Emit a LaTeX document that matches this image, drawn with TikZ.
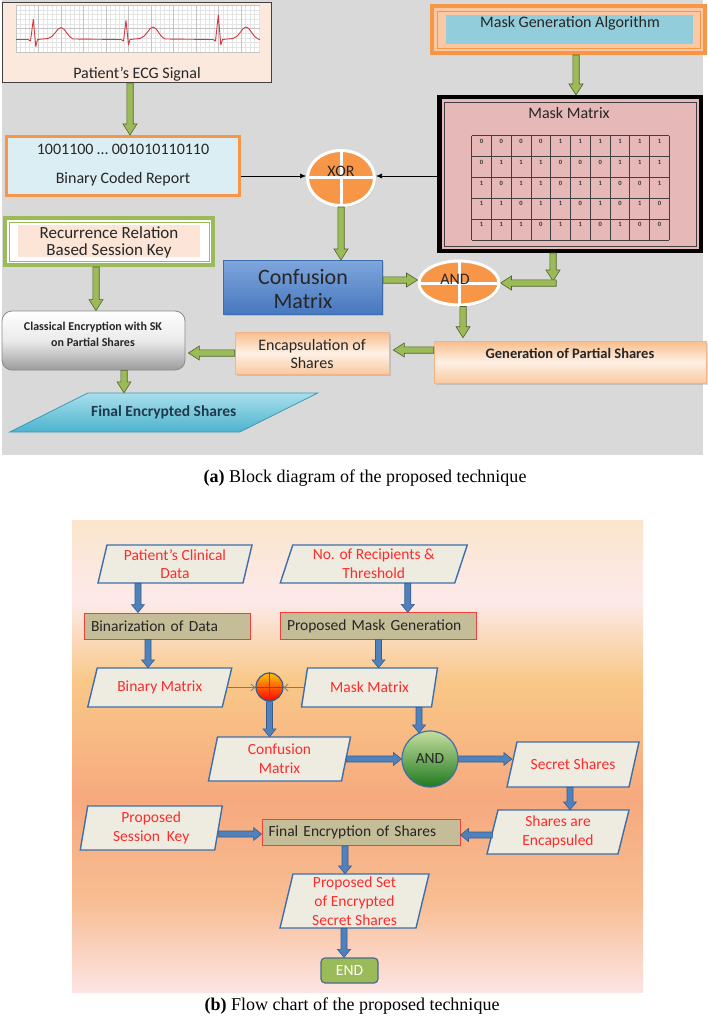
\documentclass[tikz,border=0pt]{standalone}
\usepackage{fontspec}
\setmainfont{Carlito}
\newfontfamily\capfont{Liberation Serif}
\usetikzlibrary{calc,shadows,arrows.meta,shapes.geometric}

\definecolor{grayBG}{HTML}{D9D9D9}
\definecolor{ecgFill}{HTML}{FCE9DE}
\definecolor{ecgLine}{HTML}{404040}
\definecolor{ecgRed}{HTML}{D7373F}
\definecolor{gridMinor}{HTML}{E4E4E4}
\definecolor{gridMajor}{HTML}{C4C4C4}
\definecolor{orangeB}{HTML}{F79646}
\definecolor{binFill}{HTML}{DBEEF4}
\definecolor{mgBand}{HTML}{FAC8A2}
\definecolor{mgBlue}{HTML}{92CDDC}
\definecolor{pinkM}{HTML}{E6B8B7}
\definecolor{greenB}{HTML}{9BBB59}
\definecolor{peachR}{HTML}{FCE4D6}
\definecolor{garrF}{HTML}{9BBB59}
\definecolor{garrD}{HTML}{4F6228}
\definecolor{barrF}{HTML}{4F81BD}
\definecolor{barrD}{HTML}{385D8A}
\definecolor{pgFill}{HTML}{EEECE1}
\definecolor{pgLine}{HTML}{3F6FA8}
\definecolor{redT}{HTML}{FF2A2A}
\definecolor{tanF}{HTML}{C4BD97}
\definecolor{redB}{HTML}{F0403A}
\definecolor{confT}{HTML}{7EA6DC}
\definecolor{confB}{HTML}{4677BE}
\definecolor{confD}{HTML}{3D6DAE}
\definecolor{gpsT}{HTML}{F9BD8D}
\definecolor{gpsM}{HTML}{FEF0E4}
\definecolor{gpsB}{HTML}{F9C9A0}
\definecolor{gpsD}{HTML}{F2B48A}
\definecolor{clsB}{HTML}{9C9C9C}
\definecolor{clsD}{HTML}{8A8A8A}
\definecolor{finT}{HTML}{A9DFEC}
\definecolor{finB}{HTML}{4DB3CE}
\definecolor{finD}{HTML}{3A9AB4}
\definecolor{finTxt}{HTML}{1E3A4C}
\definecolor{txtA}{HTML}{262626}
\definecolor{bgA}{HTML}{FBE5CC}
\definecolor{bgB}{HTML}{FCEAEA}
\definecolor{bgC}{HTML}{F9C888}
\definecolor{bgD}{HTML}{F6A97E}
\definecolor{bgE}{HTML}{F8BD92}
\definecolor{bgF}{HTML}{FCE4E4}
\definecolor{xorT}{HTML}{FFC000}
\definecolor{xorB}{HTML}{FF0000}
\definecolor{andT}{HTML}{C6DEA0}
\definecolor{andB}{HTML}{1F7A1F}
\definecolor{endF}{HTML}{9BBB59}
\definecolor{endD}{HTML}{4A6B8A}

\newcommand{\fsz}[2]{\fontsize{#1}{#2}\selectfont}

% block arrow: fill, draw, shaft half width, head half width, head length, start, end
\newcommand{\myblockarrow}[7]{%
  \coordinate (bA) at #6;
  \coordinate (bB) at #7;
  \coordinate (bC) at ($(bB)!#5!(bA)$);
  \filldraw[fill=#1,draw=#2,line width=0.6pt,line join=miter]
    ($(bA)!#3!90:(bB)$) -- ($(bC)!#3!90:(bB)$) -- ($(bC)!#4!90:(bB)$) -- (bB)
    -- ($(bC)!#4!-90:(bB)$) -- ($(bC)!#3!-90:(bB)$) -- ($(bA)!#3!-90:(bB)$) -- cycle;
}
\newcommand{\garr}[2]{\myblockarrow{garrF}{garrD}{3.2pt}{7pt}{11pt}{#1}{#2}}
\newcommand{\blarr}[2]{\myblockarrow{barrF}{barrD}{3pt}{6.5pt}{8pt}{#1}{#2}}

% parallelogram: name, cx, cy, w, h, slant, path style, node style, text
\newcommand{\mypgram}[9]{%
  \path[#7] ({#2-#4/2+#6/2},{#3-#5/2}) -- ({#2+#4/2+#6/2},{#3-#5/2})
    -- ({#2+#4/2-#6/2},{#3+#5/2}) -- ({#2-#4/2-#6/2},{#3+#5/2}) -- cycle;
  \node[#8, minimum width=#4pt, minimum height=#5pt, inner sep=0pt, align=center] (#1) at (#2,#3) {#9};
}

\tikzset{
  ta/.style={font=\fsz{16}{19}, text=txtA, inner sep=0pt},
  tb/.style={font=\fsz{15.5}{18.7}, text=redT},
  shad/.style={drop shadow={opacity=0.28, shadow xshift=1.5pt, shadow yshift=-1.5pt}},
  pgb/.style={fill=pgFill, draw=pgLine, line width=1.4pt, line join=miter},
  rectb/.style={fill=tanF, draw=redB, line width=0.9pt, font=\fsz{15.5}{18}, text=txtA, align=left, inner sep=6.5pt},
  gpsbox/.style={draw=gpsD, line width=0.6pt, top color=gpsT, bottom color=gpsB, middle color=gpsM, shad},
  mnum/.style={font=\fsz{6.5}{7}\bfseries, text=black!80, inner sep=0pt},
  mgrid/.style={black!75, line width=0.7pt},
  thinblk/.style={black, line width=0.6pt, -{Latex[length=6pt,width=5pt]}},
  thinb/.style={barrF, line width=0.8pt, -{Straight Barb[length=4pt,width=7pt]}},
}

\begin{document}
\begin{tikzpicture}[x=1pt,y=-1pt]
\useasboundingbox (0,0) rectangle (708,1019);
\fill[white] (0,0) rectangle (708,1019);

%================ PART (a) ================
\fill[grayBG] (2,0) rectangle (703,455);

% ECG signal box
\node[draw=ecgLine, line width=1.2pt, fill=ecgFill, minimum width=269pt, minimum height=80pt, inner sep=0pt] (ecg) at (137,42.5) {};
\fill[white] (16,5) rectangle (260,52);
\foreach \i in {0,...,54} \draw[gridMinor, line width=0.3pt] ({16+\i*4.5},5) -- ({16+\i*4.5},52);
\foreach \j in {0,...,10} \draw[gridMinor, line width=0.3pt] (16,{5+\j*4.7}) -- (260,{5+\j*4.7});
\foreach \i in {0,...,10} \draw[gridMajor, line width=0.5pt] ({16+\i*22.5},5) -- ({16+\i*22.5},52);
\foreach \j in {0,1,2} \draw[gridMajor, line width=0.5pt] (16,{5+\j*23.5}) -- (260,{5+\j*23.5});
\draw[ecgRed, line width=0.9pt, line join=round]
  (16,39.5) -- (28,39.5) -- (30.5,41) -- (33.3,19.5) -- (35.8,46.5) -- (37.5,39.5) -- (48,38.5)
  .. controls (54,37.5) and (57,27.5) .. (61,27.5) .. controls (65,27.5) and (68,37.5) .. (73,39)
  -- (121,39.5) -- (123.5,41) -- (126,20.5) -- (128.5,45) -- (130,39.5) -- (140,38.5)
  .. controls (146,37.5) and (149,27) .. (153,27) .. controls (157,27) and (160,37.5) .. (165,39)
  -- (213,39.5) -- (215.5,41) -- (218.3,15) -- (220.8,45) -- (222.5,39.5) -- (233,38.5)
  .. controls (239,37.5) and (242,27) .. (246,27) .. controls (250,27) and (253,37.5) .. (258,39)
  -- (260,39.5);
\node[ta] (ecgt) at (137,74) {Patient’s ECG Signal};

% Binary coded report
\node[draw=orangeB, line width=3pt, fill=binFill, minimum width=233pt, minimum height=59pt] (bin) at (123,166) {};
\node[ta] (bint1) at (123,149) {1001100 … 001010110110};
\node[ta] (bint2) at (123,179) {Binary Coded Report};

% Mask generation algorithm
\node[draw=orangeB, line width=4pt, fill=mgBand, minimum width=273pt, minimum height=47pt] (mg) at (568.5,29.5) {};
\draw[orangeB, line width=0.8pt] (437,11) rectangle (700,48);
\fill[mgBlue] (446,15) rectangle (693,44);
\node[ta] (mgt) at (570,23.5) {Mask Generation Algorithm};

% Mask matrix
\node[draw=black, line width=4.5pt, fill=pinkM, minimum width=261.5pt, minimum height=153.5pt] (mm) at (570,174) {};
\draw[black!75, line width=0.8pt] (444,102) rectangle (696,246);
\node[ta] (mmt) at (569,113) {Mask Matrix};
\foreach \i in {0,...,10} \draw[mgrid] ({471.7+\i*19.76},135.7) -- ({471.7+\i*19.76},240);
\foreach \j in {0,...,5} \draw[mgrid] (471.7,{135.7+\j*20.86}) -- (669.3,{135.7+\j*20.86});
\foreach \rowv [count=\r] in {{0,0,0,0,1,1,1,1,1,1},{0,1,1,1,0,0,0,1,1,1},{1,0,1,1,0,1,1,0,0,1},{1,1,0,1,1,0,1,0,1,0},{1,1,1,0,1,1,0,1,0,0}}{
  \foreach \v [count=\c] in \rowv {
    \node[mnum] (m\r-\c) at ({471.7+(\c-0.5)*19.76},{135.7+(\r-1)*20.86+5.5}) {\v};
  }
}

% XOR
\node[ellipse, draw=white, line width=3pt, fill=orangeB, minimum width=67pt, minimum height=55pt, shad] (xor) at (341,178) {};
\draw[white, line width=3pt] (xor.west) -- (xor.east) (xor.north) -- (xor.south);
\node[ta] (xort) at (341,171) {XOR};

% Recurrence relation session key
\node[draw=greenB, line width=4pt, fill=white, minimum width=208pt, minimum height=47pt] (rec) at (109,241.5) {};
\draw[greenB, line width=0.8pt] (9,222) rectangle (209,261);
\fill[peachR] (18,225) rectangle (200,257);
\node[ta, font=\fsz{17}{17}, align=center] (rect) at (109,242.5) {Recurrence Relation\\Based Session Key};

% Confusion matrix
\node[draw=confD, line width=1pt, top color=confT, bottom color=confB, minimum width=159pt, minimum height=54pt, shad] (conf) at (303,287.5) {};
\node[ta, font=\fsz{22}{23.5}, align=center] (conft) at (303,289) {Confusion\\Matrix};

% AND
\node[ellipse, draw=white, line width=3pt, fill=orangeB, minimum width=80pt, minimum height=44pt, shad] (and) at (459,283) {};
\draw[white, line width=3pt] (and.west) -- (and.east) (and.north) -- (and.south);
\node[ta] (andt) at (455,279) {AND};

% Generation of partial shares
\node[gpsbox, minimum width=272pt, minimum height=42pt] (gps) at (570,362) {};
\node[ta, font=\fsz{14.5}{17}\bfseries] (gpst) at (570,353) {Generation of Partial Shares};

% Encapsulation of shares
\node[gpsbox, minimum width=154pt, minimum height=42pt] (enc) at (312,353) {};
\node[ta, font=\fsz{16}{18}, align=center] (enct) at (312,354) {Encapsulation of\\Shares};

% Classical encryption
\node[draw=clsD, line width=0.8pt, rounded corners=10pt, top color=white, bottom color=clsB, middle color=black!8, minimum width=183pt, minimum height=59pt] (cls) at (93.5,340.5) {};
\node[ta, font=\fsz{12}{16}\bfseries, align=center] (clst) at (93,334) {Classical Encryption with SK\\on Partial Shares};

% Final encrypted shares
\mypgram{fin}{163.75}{412.5}{230}{39}{78}{draw=finD, line width=0.8pt, top color=finT, bottom color=finB}{font=\fsz{15.5}{18}\bfseries, text=finTxt}{Final Encrypted Shares}

% arrows (a)
\garr{($(ecg.south)+(-7,0)$)}{(bA |- bin.north)}
\garr{($(mg.south)+(7.5,0)$)}{(bA |- mm.north)}
\garr{(xor.south)}{(bA |- conf.north)}
\garr{($(conf.east)+(0,-7.5)$)}{(bA -| and.west)}
\coordinate (mmout) at ($(mm.south)+(-17,0)$);
\garr{(mmout)}{($(mmout |- and.east)+(0,-2)$)}
\garr{($(mmout |- and.east)+(3.2,0)$)}{(and.east)}
\garr{($(and.south)+(4,0)$)}{($(bA |- gps.north)+(0,-3)$)}
\garr{($(gps.west)+(0,-12)$)}{($(bA -| enc.east)+(4,0)$)}
\garr{(enc.west)}{($(bA -| cls.east)+(3,0)$)}
\garr{($(rec.south)+(-13,0)$)}{(bA |- cls.north)}
\garr{($(cls.south)+(30.5,0)$)}{(bA |- fin.north)}

\coordinate (binout) at ($(bin.east)+(0,10)$);
\draw[thinblk] (binout) -- (binout -| xor.west);
\coordinate (mmin) at ($(mm.west)+(0,2)$);
\draw[thinblk] (mmin) -- (mmin -| xor.east);

\node[font=\capfont\fsz{18}{20}, text=black] (capa) at (365,478) {\textbf{(a)} Block diagram of the proposed technique};

%================ PART (b) ================
\shade[top color=bgA, bottom color=bgB] (72,520) rectangle (643,600.5);
\shade[top color=bgB, bottom color=bgC] (72,600) rectangle (643,680.5);
\shade[top color=bgC, bottom color=bgD] (72,680) rectangle (643,800.5);
\shade[top color=bgD, bottom color=bgE] (72,800) rectangle (643,900.5);
\shade[top color=bgE, bottom color=bgF] (72,900) rectangle (643,992);

\mypgram{pcd}{175}{564}{145}{38}{9}{pgb}{tb}{Patient’s Clinical\\Data}
\mypgram{nrt}{373.75}{564}{174.5}{38}{12.5}{pgb}{tb}{No. of Recipients \&\\Threshold}
\node[rectb, text width=153pt, minimum height=26pt] (bin2) at (167.5,626) {Binarization of Data};
\node[rectb, text width=183pt, minimum height=26pt] (pmg) at (378.5,626) {Proposed Mask Generation};
\mypgram{binm}{159.75}{687.5}{134.5}{39}{9.5}{pgb}{tb}{Binary Matrix}
\mypgram{maskm}{369.5}{687.5}{130}{39}{6}{pgb}{tb}{Mask Matrix}
\node[ellipse, draw=barrD, line width=1.2pt, top color=xorT, bottom color=xorB, minimum width=27pt, minimum height=28pt, inner sep=0pt] (xor2) at (269.5,687) {};
\draw[barrD, line width=1pt] (xor2.north) -- (xor2.south) (xor2.west) -- (xor2.east);
\mypgram{conf2}{279.5}{759}{133}{44}{9}{pgb}{tb}{Confusion\\Matrix}
\node[circle, draw=pgLine, line width=1.2pt, top color=andT, bottom color=andB, minimum size=56pt, inner sep=0pt, font=\fsz{15.5}{18}, text=txtA] (and2) at (430,759) {AND};
\mypgram{ss}{573}{764.5}{122}{45}{10}{pgb}{tb}{Secret Shares}
\mypgram{psk}{151.25}{828}{134.5}{44}{7.5}{pgb}{tb}{Proposed\\Session\ \ Key}
\node[rectb, text width=185pt, minimum height=25pt] (fe) at (361,832.5) {Final Encryption of Shares};
\mypgram{se}{558}{832}{131}{44}{11}{pgb}{tb}{Shares are\\Encapsuled}
\mypgram{pset}{354.5}{901}{136}{54}{13}{pgb}{tb}{Proposed Set\\of Encrypted\\Secret Shares}
\node[fill=endF, draw=endD, line width=1.2pt, rounded corners=4pt, minimum width=57pt, minimum height=25pt, font=\fsz{15.5}{18}, text=white] (endn) at (349.5,970.5) {END};

% arrows (b)
\blarr{($(pcd.south)+(-37,0)$)}{(bA |- bin2.north)}
\blarr{($(nrt.south)+(34,0)$)}{(bA |- pmg.north)}
\blarr{($(bin2.south)+(-19.5,0)$)}{(bA |- binm.north)}
\blarr{(pmg.south)}{(bA |- maskm.north)}
\blarr{(xor2.south)}{(bA |- conf2.north)}
\blarr{($(maskm.south)+(49.5,0)$)}{($(bA |- and2.north)+(0,2.5)$)}
\blarr{(conf2.east)}{(bA -| and2.west)}
\blarr{(and2.east)}{(bA -| ss.west)}
\blarr{($(ss.south)+(-3,0)$)}{(bA |- se.north)}
\blarr{($(se.west)+(0,3)$)}{(bA -| fe.east)}
\blarr{($(psk.east)+(0,6)$)}{(bA -| fe.west)}
\blarr{($(fe.south)+(-16,0)$)}{(bA |- pset.north)}
\blarr{($(pset.south)+(-10.5,0)$)}{(bA |- endn.north)}

\draw[thinb] (binm.east) -- (binm.east -| xor2.west);
\draw[thinb] (maskm.west) -- (maskm.west -| xor2.east);

\node[font=\capfont\fsz{18}{20}, text=black] (capb) at (352,1006) {\textbf{(b)} Flow chart of the proposed technique};
\end{tikzpicture}
\end{document}
